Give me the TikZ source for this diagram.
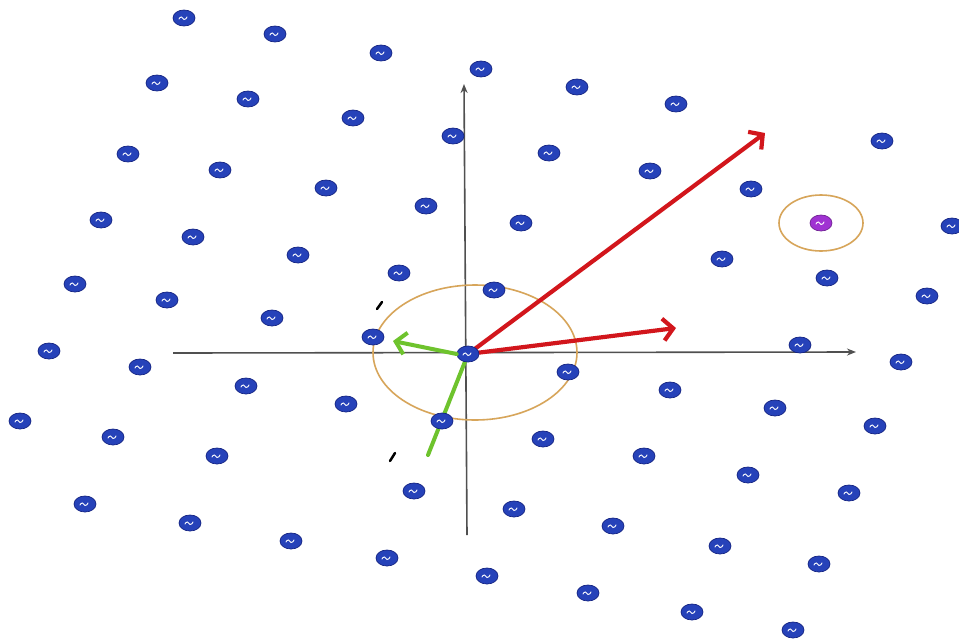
\documentclass[tikz,border=0pt]{standalone}
\usetikzlibrary{arrows.meta,shapes.geometric,backgrounds}
\definecolor{dotblue}{RGB}{38,66,185}
\definecolor{dotedge}{RGB}{20,35,130}
\definecolor{axisgray}{RGB}{80,80,80}
\definecolor{vecred}{RGB}{210,22,28}
\definecolor{vecgreen}{RGB}{110,195,45}
\definecolor{ringorange}{RGB}{215,165,90}
\definecolor{dotpurple}{RGB}{160,50,210}
\tikzset{
  latdot/.style={ellipse, minimum width=22pt, minimum height=16pt, inner sep=0pt,
    fill=dotblue, draw=dotedge, line width=0.7pt,
    path picture={\draw[white, line width=0.9pt, line cap=round]
      ([shift={(-5pt,-1pt)}]path picture bounding box.center)
      to[out=70,in=180] ++(2.5pt,2pt) to[out=0,in=180] ++(2.5pt,-2.5pt)
      to[out=0,in=250] ++(3pt,2.5pt);}},
  purpledot/.style={latdot, fill=dotpurple, draw=dotpurple!70!black},
  axisline/.style={axisgray, line width=1.6pt, -{Stealth[length=9pt,width=7pt]}},
  redvec/.style={vecred, line width=4.2pt, line cap=round,
    -{Straight Barb[length=10pt,width=22pt]}},
  greenvec/.style={vecgreen, line width=4pt, line cap=round,
    -{Straight Barb[length=10pt,width=22pt]}},
  greenline/.style={vecgreen, line width=4pt, line cap=round},
  ring/.style={ringorange, line width=1.6pt},
  tick/.style={black, line width=2.5pt, line cap=round}
}
\begin{document}
\begin{tikzpicture}[x=1pt,y=-1pt]
\useasboundingbox (0,0) rectangle (959,638);
\foreach \x/\y [count=\i] in {
  184/18, 275/34, 381/53, 481/69, 577/87, 676/104, 882/141,
  157/83, 248/99, 353/118, 453/136, 549/153, 650/171, 751/189,
  128/154, 220/170, 326/188, 426/206, 521/223, 722/259,
  101/220, 193/237, 298/255, 399/273, 494/290, 827/278,
  75/284, 167/300, 272/318, 373/337, 468/354, 568/372, 670/390, 775/408, 875/426,
  49/351, 140/367, 246/386, 346/404, 442/421, 543/439, 644/456, 748/475, 849/493,
  20/421, 113/437, 217/456, 414/491, 514/509, 613/526, 720/546, 819/564,
  85/504, 190/523, 291/541, 387/558, 487/576, 588/593, 692/612, 793/630,
  800/345, 901/362, 927/296, 952/226}
  \node[latdot] (d\i) at (\x,\y) {};
\node[purpledot] (dp) at (821,223) {};
% axes and vectors
\coordinate (xl) at (173,353);
\coordinate (xr) at (856,352);
\coordinate (yb) at (467,535);
\coordinate (yt) at (464,84);
\coordinate (r1) at (765,133);
\coordinate (r2) at (676,328);
\coordinate (g1) at (393,341);
\coordinate (g2) at (428,455);
\begin{scope}[on background layer]
  \fill[white] (0,0) rectangle (959,638);
  \draw[axisline] (xl) -- (xr);
  \draw[axisline] (yb) -- (yt);
  \draw[ring] (475,352.5) ellipse [x radius=102, y radius=67.5];
  \draw[ring] (dp.center) ellipse [x radius=42, y radius=28];
  \draw[redvec] (d31.center) -- (r1);
  \draw[redvec] (d31.center) -- (r2);
  \draw[greenline] (g2) -- (d31.center);
\end{scope}
\draw[greenvec] (d31.west) -- (g1);
\draw[tick] (377,309) -- (382,302);
\draw[tick] (390,461) -- (395,453);
\end{tikzpicture}
\end{document}
